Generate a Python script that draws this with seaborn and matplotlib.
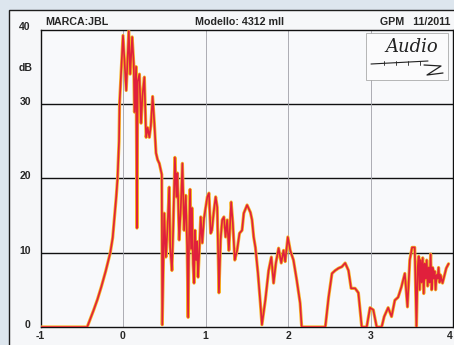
import matplotlib
matplotlib.use("Agg")
import matplotlib.pyplot as plt
import matplotlib.transforms as mtransforms
from matplotlib.patches import Rectangle
from matplotlib.lines import Line2D
import pandas as pd
import seaborn as sns

# Impulse-response envelope: time (ms) and level (dB)
time_ms = [
    -1.0, -0.434, -0.40, -0.355, -0.31, -0.263, -0.21, -0.154, -0.125, -0.102, -0.082, -0.066,
    -0.048, -0.042, 0.0,
    0.039, 0.070, 0.087, 0.111, 0.130, 0.139, 0.159, 0.169, 0.178, 0.199, 0.219, 0.235,
    0.259, 0.280, 0.299, 0.319, 0.337, 0.359, 0.380, 0.400, 0.419, 0.440, 0.460, 0.470,
    0.476, 0.488, 0.500, 0.520, 0.540, 0.560, 0.572, 0.593, 0.608, 0.629, 0.648, 0.660,
    0.681, 0.701, 0.720, 0.741, 0.761, 0.777, 0.789, 0.801, 0.813, 0.825, 0.837, 0.849,
    0.861, 0.873, 0.886, 0.898, 0.910, 0.922, 0.942, 0.961, 0.982, 1.022, 1.042, 1.063,
    1.078, 1.102, 1.123, 1.142, 1.163, 1.183, 1.202, 1.223, 1.243, 1.263, 1.283, 1.311,
    1.331, 1.355, 1.383, 1.412, 1.443, 1.464, 1.504, 1.545, 1.564, 1.584, 1.605, 1.636,
    1.665, 1.684, 1.725, 1.765, 1.798, 1.825, 1.853, 1.886, 1.918, 1.946, 1.966, 1.998,
    2.027, 2.066, 2.106, 2.147, 2.166, 2.452, 2.492, 2.533, 2.572, 2.612, 2.653, 2.693,
    2.733, 2.765, 2.813, 2.853, 2.894, 2.954, 2.994, 3.034, 3.075, 3.135, 3.166, 3.214,
    3.255, 3.295, 3.335, 3.375, 3.416, 3.448, 3.476, 3.504, 3.536, 3.557, 3.572, 3.584,
    3.596, 3.608, 3.620, 3.633, 3.645, 3.657, 3.669, 3.681, 3.693, 3.705, 3.717, 3.729,
    3.741, 3.753, 3.765, 3.777, 3.789, 3.801, 3.813, 3.825, 3.837, 3.849, 3.873, 3.918,
    3.946,
]
level_db = [
    0, 0, 1.0, 2.3, 3.7, 5.4, 7.5, 10, 12, 15, 17.5, 20,
    25, 30, 39.2,
    31.8, 39.8, 34, 39, 35.4, 28.9, 35, 13.3, 33, 34, 27.4, 31,
    33.6, 25.5, 26.8, 25.5, 27, 31, 27.4, 23.4, 22.5, 22, 21, 20.5,
    0.3, 8, 15.3, 9.4, 13.4, 18.8, 10.7, 7.6, 13, 22.8, 17.5, 20.7,
    11.7, 16.1, 22, 13, 17.7, 11, 1.3, 12, 18.5, 10.5, 16, 8.5,
    5.9, 13, 9, 11.5, 6.7, 9.5, 14.8, 11.3, 14.6, 17.5, 18, 12.6,
    13, 15.7, 17.5, 16.1, 4.6, 11.7, 14.4, 14.8, 12.1, 14.4, 10.3, 16.8,
    14, 9, 10.3, 12.6, 13, 15.3, 16.4, 15.4, 14.4, 12.1, 10.7, 7.2,
    3.2, 0.3, 3.6, 7.6, 9.4, 5.9, 8.6, 10.6, 8.6, 10.3, 8.8, 12.1,
    10.3, 9, 6.3, 3.2, 0, 0, 4, 7.2, 7.6, 7.9, 8.1, 8.6,
    7.6, 5.2, 5.2, 4.6, 0, 0, 2.6, 2.3, 0, 0, 1.4, 2.6,
    1.4, 3.6, 4, 5.4, 7.2, 2.7, 9, 10.7, 10.7, 0, 8, 9.5,
    5, 9, 6, 9.3, 4.5, 8.5, 6.5, 9, 5.5, 8, 6, 9.8,
    5, 8, 6.5, 7.5, 5, 7, 6.5, 8, 6, 7, 5.9, 7.9,
    8.5,
]

y_ticks = [0, 10, 20, 30, 40]
x_ticks = [-1, 0, 1, 2, 3, 4]
x_tick_labels = ["-1", "0", "1", "2", "3", "4"]
header_left = "MARCA:JBL"
header_mid = "Modello: 4312 mII"
header_right = "GPM   11/2011"
unit_label = "dB"

sns.set_style("white")
plt.rcParams["font.family"] = ["Liberation Sans", "DejaVu Sans"]

W, H = 454, 345
fig = plt.figure(figsize=(W / 100, H / 100), dpi=100, facecolor="#dde6ee")


def fx(px):
    return px / W


def fy(py):
    return 1 - py / H


# printed page frame
fig.patches.append(Rectangle((fx(9), -0.02), 1.05, fy(10) + 0.02,
                             transform=fig.transFigure, facecolor="#f6f7f9",
                             edgecolor="#1e1e1e", linewidth=1.0, zorder=-1))

ax = fig.add_axes([fx(40.5), fy(327), fx(453) - fx(40.5), fy(29.5) - fy(327)])
ax.set_facecolor("#f8f9fb")
ax.set_xlim(-1, 4)
ax.set_ylim(0, 40)

for v in [10, 20, 30]:
    ax.axhline(v, color="#111111", lw=1.0, zorder=1)
for v in [0, 1, 2, 3]:
    ax.axvline(v, color="#a0a0a8", lw=0.6, zorder=1)

df = pd.DataFrame({"time_ms": time_ms, "level_db": level_db})
sns.lineplot(data=df, x="time_ms", y="level_db", sort=False, estimator=None,
             color="#f5b223", lw=2.3, ax=ax, zorder=4)
sns.lineplot(data=df, x="time_ms", y="level_db", sort=False, estimator=None,
             color="#e0203c", lw=1.2, ax=ax, zorder=5)
ax.set_xlabel("")
ax.set_ylabel("")

for s in ax.spines.values():
    s.set_color("#111111")
    s.set_linewidth(1.0)

ax.set_yticks(y_ticks)
ax.set_yticklabels([str(v) for v in y_ticks], fontsize=7.5, fontweight="bold")
ax.tick_params(axis="y", length=0, pad=7)
up = mtransforms.ScaledTranslation(0, 3 / 100, fig.dpi_scale_trans)
for lab in ax.get_yticklabels():
    lab.set_transform(lab.get_transform() + up)

ax.set_xticks(x_ticks)
ax.set_xticklabels(x_tick_labels, fontsize=7.5, fontweight="bold")
ax.tick_params(axis="x", length=0, pad=3)
ax.get_xticklabels()[-1].set_horizontalalignment("right")

fig.text(fx(25.5), fy(68), unit_label, ha="center", va="center",
         fontsize=7.5, fontweight="bold")

fig.text(fx(45), fy(22), header_left, ha="left", va="center",
         fontsize=7.7, fontweight="bold")
fig.text(fx(239.5), fy(22), header_mid, ha="center", va="center",
         fontsize=7.7, fontweight="bold")
fig.text(fx(450), fy(22), header_right, ha="right", va="center",
         fontsize=7.7, fontweight="bold")

# magazine logo box
fig.patches.append(Rectangle((fx(366), fy(80)), fx(448) - fx(366), fy(33) - fy(80),
                             transform=fig.transFigure, facecolor="#fbfbfc",
                             edgecolor="#9a9a9a", linewidth=0.5, zorder=6))
fig.text(fx(412), fy(47), "Audio", ha="center", va="center", fontsize=13,
         family="DejaVu Serif", style="italic", color="#222222", zorder=7)
fig.lines.append(Line2D([fx(371), fx(428)], [fy(64), fy(61)],
                        transform=fig.transFigure, color="#222222", lw=0.8, zorder=7))
for px in [384, 396, 408, 420]:
    fig.lines.append(Line2D([fx(px), fx(px)], [fy(61), fy(65)],
                            transform=fig.transFigure, color="#222222", lw=0.6, zorder=7))
fig.lines.append(Line2D([fx(424), fx(441), fx(427), fx(443)],
                        [fy(65), fy(66), fy(75), fy(73)],
                        transform=fig.transFigure, color="#222222", lw=0.9, zorder=7))

fig.savefig("out.png", dpi=100, facecolor=fig.get_facecolor())
